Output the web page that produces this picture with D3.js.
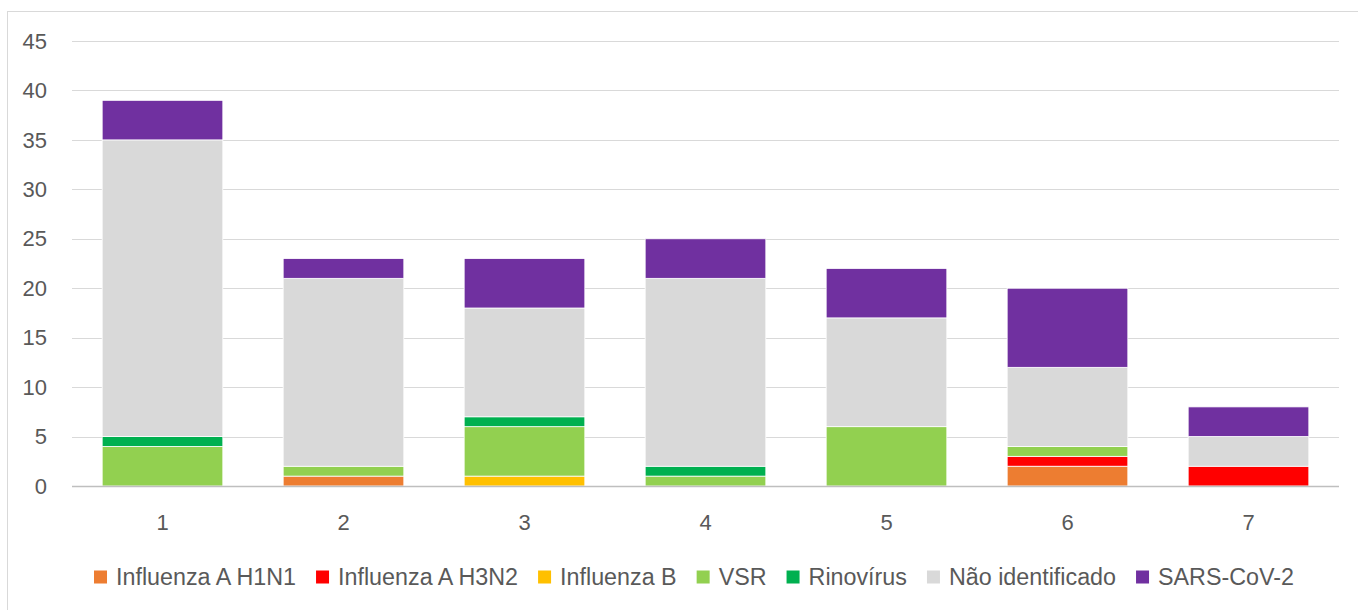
<!DOCTYPE html>
<html lang="pt">
<head>
<meta charset="UTF-8">
<title>Casos por semana</title>
<script src="https://cdn.jsdelivr.net/npm/d3@7/dist/d3.min.js"></script>
<style>
  body { margin: 0; background: #fff; }
  text { font-family: "Liberation Sans", Arial, sans-serif; fill: #595959; }
</style>
</head>
<body>
<script>
  // categorias e séries
  var categorias = ["1", "2", "3", "4", "5", "6", "7"];
  var series = ["Influenza A H1N1", "Influenza A H3N2", "Influenza B", "VSR", "Rinovírus", "Não identificado", "SARS-CoV-2"];
  var cores = ["#ED7D31", "#FF0000", "#FFC000", "#92D050", "#00B050", "#D9D9D9", "#7030A0"];

  var h1n1   = [0, 1, 0, 0, 0, 2, 0];
  var h3n2   = [0, 0, 0, 0, 0, 1, 2];
  var infB   = [0, 0, 1, 0, 0, 0, 0];
  var vsr    = [4, 1, 5, 1, 6, 1, 0];
  var rino   = [1, 0, 1, 1, 0, 0, 0];
  var naoId  = [30, 19, 11, 19, 11, 8, 3];
  var sars   = [4, 2, 5, 4, 5, 8, 3];
  var yTicks = [0, 5, 10, 15, 20, 25, 30, 35, 40, 45];

  var valores = [h1n1, h3n2, infB, vsr, rino, naoId, sars];

  var largura = 1358, altura = 610;
  var margem = { esq: 72, dir: 1339, topo: 41, base: 486 };

  var svg = d3.select("body").append("svg")
    .attr("width", largura)
    .attr("height", altura);

  // moldura do gráfico
  svg.append("rect")
    .attr("x", 7.5).attr("y", 11.5)
    .attr("width", 1360).attr("height", 620)
    .attr("fill", "none")
    .attr("stroke", "#D9D9D9");

  var tabela = categorias.map(function(c, i) {
    var linha = { cat: c };
    series.forEach(function(s, k) { linha[s] = valores[k][i]; });
    return linha;
  });

  var pilha = d3.stack().keys(series)(tabela);

  var escalaX = d3.scaleBand()
    .domain(categorias)
    .range([margem.esq, margem.dir])
    .paddingInner(1 / 3)
    .paddingOuter(1 / 6);

  var escalaY = d3.scaleLinear()
    .domain([0, 45])
    .range([margem.base, margem.topo]);

  // linhas de grade
  svg.append("g")
    .selectAll("line")
    .data(yTicks.slice(1))
    .enter().append("line")
    .attr("x1", margem.esq).attr("x2", margem.dir)
    .attr("y1", function(d) { return Math.round(escalaY(d)) + 0.5; })
    .attr("y2", function(d) { return Math.round(escalaY(d)) + 0.5; })
    .attr("stroke", "#D9D9D9")
    .attr("stroke-width", 1);

  // barras empilhadas
  svg.append("g")
    .selectAll("g")
    .data(pilha)
    .enter().append("g")
    .attr("fill", function(d, i) { return cores[i]; })
    .selectAll("rect")
    .data(function(d) { return d.filter(function(p) { return p[1] > p[0]; }); })
    .enter().append("rect")
    .attr("x", function(d) { return escalaX(d.data.cat); })
    .attr("width", escalaX.bandwidth())
    .attr("y", function(d) { return escalaY(d[1]); })
    .attr("height", function(d) { return escalaY(d[0]) - escalaY(d[1]); })
    .attr("stroke", "#fff")
    .attr("stroke-width", 0.8);

  // eixo horizontal
  svg.append("line")
    .attr("x1", margem.esq).attr("x2", margem.dir)
    .attr("y1", margem.base + 0.5).attr("y2", margem.base + 0.5)
    .attr("stroke", "#BFBFBF")
    .attr("stroke-width", 1.5);

  // rótulos do eixo Y
  svg.append("g")
    .selectAll("text")
    .data(yTicks)
    .enter().append("text")
    .attr("x", 47)
    .attr("y", function(d) { return escalaY(d); })
    .attr("dy", "0.35em")
    .attr("text-anchor", "end")
    .attr("font-size", "22px")
    .text(function(d) { return d; });

  // rótulos do eixo X
  svg.append("g")
    .selectAll("text")
    .data(categorias)
    .enter().append("text")
    .attr("x", function(d) { return escalaX(d) + escalaX.bandwidth() / 2; })
    .attr("y", 522)
    .attr("dy", "0.35em")
    .attr("text-anchor", "middle")
    .attr("font-size", "22px")
    .text(function(d) { return d; });

  // legenda
  var legenda = svg.append("g");
  var px = 0;
  series.forEach(function(s, i) {
    var item = legenda.append("g").attr("transform", "translate(" + px + ",0)");
    item.append("rect")
      .attr("x", 0).attr("y", -6.5)
      .attr("width", 13).attr("height", 13)
      .attr("fill", cores[i]);
    var t = item.append("text")
      .attr("x", 22).attr("y", 0)
      .attr("dy", "0.35em")
      .attr("font-size", "23.3px")
      .text(s);
    px += 22 + t.node().getComputedTextLength() + 20;
  });
  var totalLeg = px - 20;
  legenda.attr("transform", "translate(" + (694 - totalLeg / 2) + ",577)");
</script>
</body>
</html>
